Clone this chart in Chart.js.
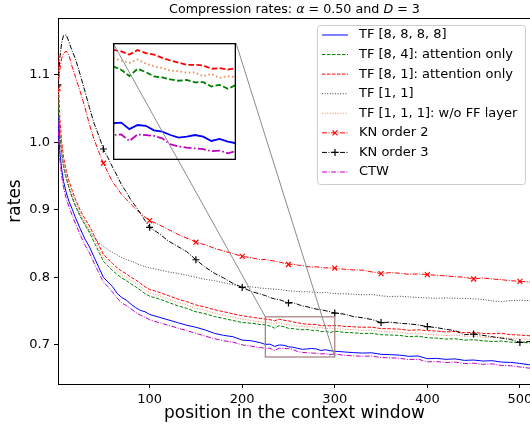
<!DOCTYPE html>
<html><head><meta charset="utf-8">
<script src="https://cdn.jsdelivr.net/npm/chart.js@4.4.1/dist/chart.umd.min.js"></script>
<style>
html,body{margin:0;padding:0;background:#fff;overflow:hidden;width:530px;height:430px}
#wrap{position:relative;width:530px;height:430px;overflow:hidden}
#main{position:absolute;left:0;top:0}
#inset{position:absolute;left:113px;top:43px}
</style></head><body>
<div id="wrap"><canvas id="main" width="540" height="430"></canvas><canvas id="inset" width="123" height="117"></canvas></div>
<script>
const positions = [1,2,3,5,7,10,13,16,20,25,30,35,40,45,50,55,60,65,70,75,80,85,90,95,100,
 110,120,130,140,150,160,170,180,190,200,210,220,
 225,230,235,240,245,250,255,260,265,270,275,280,285,290,295,300,
 310,320,330,340,350,360,370,380,390,400,410,420,430,440,450,460,470,480,490,500,510,512];

const tf8888 = [1.040,1.005,0.985,0.960,0.942,0.925,0.912,0.902,0.888,0.872,0.857,0.845,0.830,0.815,0.800,0.793,0.786,0.776,0.770,0.766,0.760,0.755,0.751,0.749,0.745,
 0.741,0.737,0.733,0.729,0.726,0.722,0.717,0.714,0.712,0.707,0.706,0.703,
 0.7007,0.7010,0.6977,0.6998,0.6994,0.6971,0.6964,0.6947,0.6934,0.6939,0.6947,0.6939,0.6917,0.6927,0.6913,0.6905,
 0.6895,0.6885,0.6878,0.6882,0.6860,0.6855,0.6848,0.6830,0.6835,0.6795,0.6800,0.6785,0.6792,0.6770,0.6775,0.6760,0.6765,0.6745,0.6740,0.6725,0.6705,0.6708];

const tf84 = [1.070,1.035,1.012,0.985,0.966,0.947,0.932,0.919,0.905,0.890,0.878,0.866,0.852,0.838,0.824,0.817,0.810,0.804,0.799,0.795,0.790,0.786,0.781,0.776,0.772,
 0.768,0.763,0.758,0.754,0.749,0.746,0.742,0.739,0.736,0.733,0.732,0.730,
 0.7296,0.7279,0.7247,0.7284,0.7267,0.7245,0.7240,0.7230,0.7223,0.7227,0.7215,0.7216,0.7194,0.7202,0.7182,0.7202,
 0.7185,0.7178,0.7168,0.7170,0.7150,0.7145,0.7140,0.7120,0.7128,0.7105,0.7100,0.7085,0.7090,0.7070,0.7075,0.7060,0.7050,0.7055,0.7040,0.7035,0.7030,0.7025];

const tf81 = [1.130,1.070,1.035,1.000,0.978,0.957,0.942,0.930,0.915,0.899,0.887,0.876,0.862,0.848,0.834,0.827,0.820,0.814,0.809,0.805,0.800,0.796,0.791,0.786,0.782,
 0.778,0.773,0.768,0.764,0.759,0.756,0.752,0.749,0.746,0.743,0.741,0.739,
 0.7381,0.7372,0.7356,0.7379,0.7364,0.7356,0.7339,0.7326,0.7315,0.7304,0.7304,0.7301,0.7284,0.7287,0.7280,0.7287,
 0.7275,0.7268,0.7260,0.7262,0.7240,0.7238,0.7232,0.7215,0.7222,0.7210,0.7205,0.7190,0.7198,0.7180,0.7185,0.7170,0.7165,0.7172,0.7150,0.7145,0.7135,0.7130];

const tf11 = [1.060,1.025,1.005,0.980,0.962,0.945,0.932,0.920,0.906,0.892,0.879,0.868,0.859,0.851,0.846,0.841,0.837,0.833,0.829,0.826,0.824,0.821,0.818,0.816,0.814,
 0.811,0.808,0.806,0.803,0.800,0.797,0.795,0.792,0.789,0.786,0.786,0.784,
 0.7835,0.7830,0.7825,0.7820,0.7810,0.7800,0.7795,0.7790,0.7785,0.7790,0.7780,0.7775,0.7770,0.7778,0.7765,0.7760,
 0.7755,0.7750,0.7740,0.7745,0.7725,0.7715,0.7720,0.7710,0.7700,0.7695,0.7690,0.7695,0.7690,0.7688,0.7680,0.7672,0.7650,0.7640,0.7655,0.7660,0.7655,0.7650];

const tf111 = [1.110,1.055,1.025,0.993,0.972,0.952,0.937,0.925,0.910,0.895,0.883,0.871,0.857,0.843,0.829,0.822,0.815,0.809,0.804,0.800,0.795,0.791,0.786,0.781,0.777,
 0.773,0.768,0.763,0.759,0.754,0.751,0.747,0.744,0.741,0.738,0.736,0.734,
 0.7338,0.7326,0.7314,0.7331,0.7311,0.7296,0.7288,0.7274,0.7271,0.7264,0.7266,0.7246,0.7258,0.7237,0.7247,0.7240,
 0.7232,0.7225,0.7215,0.7218,0.7198,0.7192,0.7188,0.7168,0.7175,0.7155,0.7150,0.7138,0.7145,0.7125,0.7130,0.7112,0.7108,0.7115,0.7095,0.7090,0.7082,0.7080];

const kn2 = [1.080,1.095,1.108,1.124,1.132,1.135,1.128,1.113,1.096,1.075,1.052,1.026,1.004,0.986,0.969,0.955,0.941,0.932,0.922,0.915,0.908,0.901,0.895,0.889,0.884,
 0.878,0.871,0.864,0.858,0.852,0.848,0.843,0.839,0.835,0.831,0.829,0.826,
 0.8265,0.8250,0.8240,0.8225,0.8210,0.8190,0.8195,0.8180,0.8175,0.8160,0.8150,0.8155,0.8145,0.8140,0.8138,0.8136,
 0.8120,0.8110,0.8105,0.8080,0.8055,0.8070,0.8060,0.8045,0.8050,0.8040,0.8030,0.8020,0.8010,0.8000,0.7975,0.7990,0.7975,0.7965,0.7950,0.7940,0.7930,0.7925];

const kn3 = [1.085,1.105,1.125,1.148,1.158,1.159,1.148,1.136,1.123,1.100,1.076,1.051,1.028,1.010,0.990,0.977,0.963,0.950,0.936,0.926,0.914,0.905,0.895,0.884,0.874,
 0.865,0.854,0.846,0.838,0.826,0.815,0.806,0.799,0.791,0.785,0.779,0.775,
 0.773,0.770,0.768,0.767,0.7645,0.762,0.7625,0.760,0.7575,0.7565,0.7545,0.7530,0.7520,0.7505,0.7490,0.7470,
 0.7455,0.7420,0.7400,0.7375,0.7330,0.7335,0.7320,0.7310,0.7295,0.7270,0.7255,0.7230,0.7210,0.7150,0.7160,0.7140,0.7120,0.7100,0.7080,0.7035,0.7050,0.7045];

const ctw = [1.030,0.995,0.975,0.950,0.933,0.916,0.904,0.893,0.879,0.863,0.848,0.836,0.821,0.807,0.793,0.786,0.778,0.769,0.762,0.758,0.753,0.748,0.744,0.741,0.737,
 0.733,0.729,0.725,0.721,0.717,0.713,0.709,0.706,0.704,0.700,0.698,0.696,
 0.6947,0.6950,0.6917,0.6950,0.6947,0.6943,0.6930,0.6900,0.6888,0.6883,0.6879,0.6875,0.6865,0.6868,0.6854,0.6865,
 0.6845,0.6838,0.6830,0.6835,0.6812,0.6808,0.6800,0.6782,0.6788,0.6748,0.6752,0.6738,0.6745,0.6722,0.6728,0.6712,0.6718,0.6695,0.6690,0.6672,0.6655,0.6658];

const seriesLabels = ['TF [8, 8, 8, 8]','TF [8, 4]: attention only','TF [8, 1]: attention only','TF [1, 1]','TF [1, 1, 1]: w/o FF layer','KN order 2','KN order 3','CTW'];
const seriesValues = [tf8888, tf84, tf81, tf11, tf111, kn2, kn3, ctw];
const markerPositions = [1,50,100,150,200,250,300,350,400,450,500];
const xTicks = [100,200,300,400,500];
const yTicks = [0.7,0.8,0.9,1.0,1.1];
const xRange = [1,512];
const yRange = [0.642,1.184];
const insetXRange = [225,300];
const insetYRange = [0.682,0.7415];
const titleParts = [['Compression rates: ',false],['\u03b1',true],[' = 0.50 and ',false],['D',true],[' = 3',false]];
const xLabel = 'position in the context window';
const yLabel = 'rates';

seriesValues.forEach((a,i)=>{ if(a.length!==positions.length) throw new Error('length mismatch '+i+' '+a.length); });

const FONT = 'DejaVu Sans';
const styles = [
 {color:'#0000ff', dash:'solid'},
 {color:'#008000', dash:'dashed'},
 {color:'#ff0000', dash:'dashed'},
 {color:'#444444', dash:'dotted'},
 {color:'#ee8d5a', dash:'dotted'},
 {color:'#ff0000', dash:'dashdot', marker:'crossRot'},
 {color:'#000000', dash:'dashdot', marker:'cross'},
 {color:'#bf00bf', dash:'dashdot'}
];
function dashFor(kind, s){
  if(kind==='dashed') return [3.5*s,1.5*s];
  if(kind==='dotted') return [1*s,1.6*s];
  if(kind==='dashdot') return [5*s,1.5*s,1*s,1.5*s];
  return [];
}
function makeDatasets(lw, ds, withMarkers){
  return seriesLabels.map((label,i)=>{
    const st = styles[i];
    return {
      label,
      data: positions.map((x,j)=>({x, y: seriesValues[i][j]})),
      borderColor: st.color, backgroundColor: st.color,
      borderWidth: lw, borderDash: dashFor(st.dash, ds),
      pointStyle: st.marker || 'circle',
      pointRadius: (withMarkers && st.marker) ? (c => markerPositions.includes(positions[c.dataIndex]) ? 3.5 : 0) : 0,
      pointBorderWidth: 1.2, pointBorderColor: st.color, pointBackgroundColor: st.color,
      pointHoverRadius: 0,
      tension: 0, fill: false, order: -i, legendMarker: st.marker || null
    };
  });
}

const INSET = {left:113, top:43, width:123, height:117};

const decorPlugin = {
  id:'decor',
  afterDatasetsDraw(chart){
    const ctx = chart.ctx, ca = chart.chartArea, xs = chart.scales.x, ys = chart.scales.y;
    ctx.save();
    // top and right spines
    ctx.strokeStyle = '#000'; ctx.lineWidth = 1; ctx.setLineDash([]);
    ctx.beginPath(); ctx.moveTo(ca.left, ca.top+0.5); ctx.lineTo(ca.right, ca.top+0.5);
    ctx.moveTo(ca.right-0.5, ca.top); ctx.lineTo(ca.right-0.5, ca.bottom); ctx.stroke();
    // zoom rectangle
    const rl = xs.getPixelForValue(insetXRange[0]), rr = xs.getPixelForValue(insetXRange[1]);
    const rt = ys.getPixelForValue(insetYRange[1]), rb = ys.getPixelForValue(insetYRange[0]);
    ctx.strokeStyle = '#a47a7a'; ctx.lineWidth = 1.2;
    ctx.strokeRect(rl, rt, rr-rl, rb-rt);
    // connectors
    ctx.strokeStyle = '#8a8a8a'; ctx.lineWidth = 1;
    ctx.beginPath();
    ctx.moveTo(INSET.left, INSET.top); ctx.lineTo(rl, rt);
    ctx.moveTo(INSET.left+INSET.width, INSET.top); ctx.lineTo(rr, rb);
    ctx.stroke();
    ctx.restore();
  },
  afterDraw(chart){
    const ctx = chart.ctx, ca = chart.chartArea;
    ctx.save();
    // title with italic math letters
    const fs = 12.7;
    let total = 0;
    titleParts.forEach(([t,it])=>{ ctx.font = (it?'italic ':'')+fs+'px "'+FONT+'"'; total += ctx.measureText(t).width; });
    let x = (ca.left+ca.right)/2 - total/2;
    ctx.fillStyle = '#000'; ctx.textBaseline = 'alphabetic'; ctx.textAlign = 'left';
    titleParts.forEach(([t,it])=>{ ctx.font = (it?'italic ':'')+fs+'px "'+FONT+'"'; ctx.fillText(t, x, 12.7); x += ctx.measureText(t).width; });
    // legend
    const bx=317.5, by=25.5, bw=208, bh=159, r=3;
    ctx.beginPath();
    ctx.moveTo(bx+r,by); ctx.lineTo(bx+bw-r,by); ctx.arcTo(bx+bw,by,bx+bw,by+r,r);
    ctx.lineTo(bx+bw,by+bh-r); ctx.arcTo(bx+bw,by+bh,bx+bw-r,by+bh,r);
    ctx.lineTo(bx+r,by+bh); ctx.arcTo(bx,by+bh,bx,by+bh-r,r);
    ctx.lineTo(bx,by+r); ctx.arcTo(bx,by,bx+r,by,r); ctx.closePath();
    ctx.fillStyle = 'rgba(255,255,255,0.8)'; ctx.fill();
    ctx.strokeStyle = '#cccccc'; ctx.lineWidth = 1; ctx.stroke();
    chart.data.datasets.forEach((ds,i)=>{
      const y = 35 + i*19.57;
      ctx.strokeStyle = ds.borderColor; ctx.lineWidth = ds.borderWidth; ctx.setLineDash(ds.borderDash);
      ctx.beginPath(); ctx.moveTo(322,y); ctx.lineTo(348,y); ctx.stroke();
      ctx.setLineDash([]);
      if(ds.legendMarker){
        ctx.strokeStyle = ds.borderColor; ctx.fillStyle = ds.borderColor; ctx.lineWidth = 1.2;
        Chart.helpers.drawPoint(ctx, {pointStyle: ds.legendMarker, radius: 3.5, borderWidth: 1.2, rotation: 0}, 335, y);
      }
      ctx.fillStyle = '#000'; ctx.font = '13px "'+FONT+'"'; ctx.textBaseline = 'middle'; ctx.textAlign='left';
      ctx.fillText(ds.label, 359, y);
    });
    ctx.restore();
  }
};

const mainChart = new Chart(document.getElementById('main'), {
  type:'line',
  data:{datasets: makeDatasets(1, 1, true)},
  options:{
    responsive:false, animation:false, devicePixelRatio:1, events:[],
    layout:{padding:{top:18,right:9,bottom:0,left:0}},
    plugins:{legend:{display:false}, tooltip:{enabled:false}, title:{display:false}},
    scales:{
      x:{type:'linear', min:xRange[0], max:xRange[1],
        afterBuildTicks: s => { s.ticks = xTicks.map(v=>({value:v})); },
        afterFit: s => { s.height = 46; },
        grid:{drawOnChartArea:false, drawTicks:true, tickLength:4, tickColor:'#000', tickWidth:1},
        border:{display:true, color:'#000', width:1},
        ticks:{font:{family:FONT, size:13}, color:'#000', padding:4, maxRotation:0, autoSkip:false},
        title:{display:true, text:xLabel, font:{family:FONT, size:17}, color:'#000', padding:{top:0,bottom:6}}
      },
      y:{type:'linear', min:yRange[0], max:yRange[1],
        afterBuildTicks: s => { s.ticks = yTicks.map(v=>({value:v})); },
        afterFit: s => { s.width = 58; },
        grid:{drawOnChartArea:false, drawTicks:true, tickLength:4, tickColor:'#000', tickWidth:1},
        border:{display:true, color:'#000', width:1},
        ticks:{font:{family:FONT, size:13}, color:'#000', padding:4, callback: v => Number(v).toFixed(1)},
        title:{display:true, text:yLabel, font:{family:FONT, size:17}, color:'#000', padding:{top:5,bottom:0}}
      }
    }
  },
  plugins:[decorPlugin]
});

const insetPlugin = {
  id:'insetDecor',
  beforeDraw(chart){
    const ctx = chart.ctx; ctx.save(); ctx.fillStyle='#fff'; ctx.fillRect(0,0,chart.width,chart.height); ctx.restore();
  },
  afterDraw(chart){
    const ctx = chart.ctx;
    const xs = mainChart.scales.x, ys = mainChart.scales.y;
    const rl = xs.getPixelForValue(insetXRange[0]), rt = ys.getPixelForValue(insetYRange[1]);
    ctx.save();
    ctx.strokeStyle = '#8a8a8a'; ctx.lineWidth = 1; ctx.setLineDash([]);
    ctx.beginPath(); ctx.moveTo(0,0); ctx.lineTo(rl-INSET.left, rt-INSET.top); ctx.stroke();
    ctx.strokeStyle = '#000'; ctx.lineWidth = 1.3;
    ctx.strokeRect(0.65,0.65,chart.width-1.3,chart.height-1.3);
    ctx.restore();
  }
};

new Chart(document.getElementById('inset'), {
  type:'line',
  data:{datasets: makeDatasets(1.8, 1.6, false)},
  options:{
    responsive:false, animation:false, devicePixelRatio:1, events:[],
    layout:{padding:0},
    plugins:{legend:{display:false}, tooltip:{enabled:false}},
    scales:{
      x:{type:'linear', min:insetXRange[0], max:insetXRange[1], display:false},
      y:{type:'linear', min:insetYRange[0], max:insetYRange[1], display:false}
    }
  },
  plugins:[insetPlugin]
});
</script>
</body></html>
